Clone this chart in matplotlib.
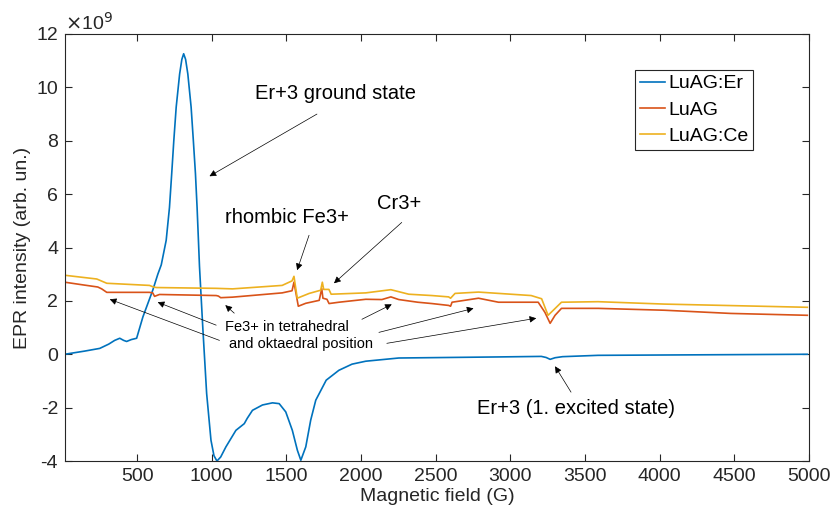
import numpy as np
import matplotlib.pyplot as plt

plt.rcParams['font.family'] = ['Liberation Sans', 'DejaVu Sans']

# LuAG:Er trace (field in G, intensity in 1e9 arb. un.)
er_field = [16, 150, 250, 310, 350, 384, 410, 430, 461, 497, 539, 572, 605, 639, 662, 695,
            717, 732, 746, 762, 785, 800, 812, 825, 840, 862, 877, 891, 902, 911, 918,
            940, 966, 995, 1015, 1035, 1060, 1095, 1162, 1218, 1238, 1273, 1340, 1407,
            1452, 1496, 1540, 1574, 1597, 1630, 1663, 1697, 1767, 1852, 1940, 2032, 2253,
            2921, 3208, 3240, 3267, 3300, 3350, 3588, 4990]
er_int = [0.0, 0.12, 0.22, 0.38, 0.52, 0.6, 0.52, 0.48, 0.55, 0.6, 1.4, 1.9, 2.4, 3.0,
          3.35, 4.27, 5.5, 6.77, 8.0, 9.26, 10.5, 11.05, 11.26, 11.05, 10.5, 9.26, 8.0,
          6.77, 5.5, 4.27, 3.3, 1.02, -1.47, -3.22, -3.8, -4.0, -3.85, -3.47, -2.85,
          -2.6, -2.4, -2.1, -1.9, -1.82, -1.85, -2.16, -2.85, -3.6, -3.97, -3.47, -2.47,
          -1.72, -0.97, -0.6, -0.37, -0.26, -0.14, -0.1, -0.08, -0.12, -0.19, -0.13,
          -0.09, -0.04, 0.0]

# undoped LuAG
lu_field = [16, 137, 237, 263, 297, 583, 605, 617, 650, 1030, 1045, 1060, 1139, 1472,
            1538, 1551, 1580, 1630, 1720, 1737, 1745, 1772, 1786, 1852, 2032, 2140, 2200,
            2253, 2380, 2475, 2587, 2600, 2610, 2787, 2921, 3187, 3232, 3267, 3300, 3343,
            3588, 4032, 4477, 4990]
lu_int = [2.7, 2.6, 2.52, 2.45, 2.32, 2.32, 2.3, 2.17, 2.24, 2.2, 2.18, 2.12, 2.14, 2.3,
          2.38, 2.7, 1.8, 1.91, 2.02, 2.46, 2.1, 2.06, 1.9, 1.95, 2.06, 2.05, 2.15, 2.05,
          1.95, 1.9, 1.83, 1.8, 1.95, 2.1, 1.95, 1.95, 1.57, 1.16, 1.46, 1.72, 1.72,
          1.65, 1.53, 1.46]

# LuAG:Ce
ce_field = [16, 230, 297, 583, 610, 630, 1030, 1139, 1472, 1538, 1551, 1573, 1653, 1730,
            1741, 1750, 1785, 1800, 2032, 2200, 2320, 2475, 2587, 2600, 2630, 2787, 3140,
            3210, 3253, 3290, 3343, 3588, 4032, 4990]
ce_int = [2.96, 2.82, 2.66, 2.58, 2.52, 2.5, 2.47, 2.45, 2.58, 2.75, 2.92, 2.1, 2.28,
          2.4, 2.7, 2.43, 2.43, 2.25, 2.3, 2.42, 2.25, 2.2, 2.15, 2.1, 2.28, 2.33, 2.2,
          2.08, 1.46, 1.66, 1.95, 1.97, 1.88, 1.76]

x_ticks = [500, 1000, 1500, 2000, 2500, 3000, 3500, 4000, 4500, 5000]
y_ticks = [-4, -2, 0, 2, 4, 6, 8, 10, 12]

scale = 1e9
ink = '#262626'
fig = plt.figure(figsize=(8.33, 5.23), dpi=100)
ax = fig.add_axes([0.078, 0.1185, 0.893, 0.8165])

ax.plot(er_field, np.array(er_int) * scale, color='#0072BD', lw=1.2, label='LuAG:Er')
ax.plot(lu_field, np.array(lu_int) * scale, color='#D95319', lw=1.2, label='LuAG')
ax.plot(ce_field, np.array(ce_int) * scale, color='#EDB120', lw=1.2, label='LuAG:Ce')

ax.set_xlim(17, 5000)
ax.set_ylim(-4 * scale, 12 * scale)
ax.set_xticks(x_ticks)
ax.set_yticks([v * scale for v in y_ticks])
ax.set_yticklabels([str(v) for v in y_ticks])
ax.tick_params(direction='in', top=True, right=True, labelsize=14, colors=ink,
               length=5, width=0.8, pad=5)
for s in ax.spines.values():
    s.set_color(ink)
    s.set_linewidth(0.8)
ax.set_xlabel('Magnetic field (G)', fontsize=14, color=ink, labelpad=2)
ax.set_ylabel('EPR intensity (arb. un.)', fontsize=14, color=ink, labelpad=4)
ax.text(0.0, 1.0, r'$\times$10$^9$', transform=ax.transAxes, fontsize=14,
        color=ink, ha='left', va='bottom')

leg = ax.legend(loc='upper right', bbox_to_anchor=(0.925, 0.916), fontsize=14,
                frameon=True, fancybox=False, handlelength=1.3, handletextpad=0.15,
                borderpad=0.25, labelspacing=0.45, borderaxespad=0, framealpha=1)
leg.get_frame().set_edgecolor(ink)
leg.get_frame().set_linewidth(0.8)


def arrow(tail, head):
    ax.annotate('', xy=(head[0], head[1] * scale), xytext=(tail[0], tail[1] * scale),
                arrowprops=dict(arrowstyle='-|>', lw=0.5, color='k', mutation_scale=10,
                                shrinkA=0, shrinkB=0))


ax.text(1832, 9.78 * scale, 'Er+3 ground state', fontsize=14.5, ha='center', va='center')
arrow((1705, 9.0), (985, 6.67))
ax.text(1505, 5.13 * scale, 'rhombic Fe3+', fontsize=14.5, ha='center', va='center')
arrow((1652, 4.46), (1572, 3.15))
ax.text(2253, 5.66 * scale, 'Cr3+', fontsize=14.5, ha='center', va='center')
arrow((2273, 4.94), (1819, 2.66))

ax.text(1091, 1.02 * scale, 'Fe3+ in tetrahedral', fontsize=10.5, ha='left', va='center')
ax.text(1118, 0.40 * scale, 'and oktaedral position', fontsize=10.5, ha='left', va='center')
arrow((1052, 0.52), (317, 2.06))
arrow((1030, 1.09), (638, 1.95))
arrow((1151, 1.54), (1091, 1.84))
arrow((2006, 1.31), (2206, 1.87))
arrow((2120, 0.82), (2754, 1.72))
arrow((2173, 0.41), (3174, 1.35))

ax.text(3442, -2.02 * scale, 'Er+3 (1. excited state)', fontsize=14.5, ha='center', va='center')
arrow((3407, -1.42), (3300, -0.45))

fig.savefig('out.png', dpi=100)
